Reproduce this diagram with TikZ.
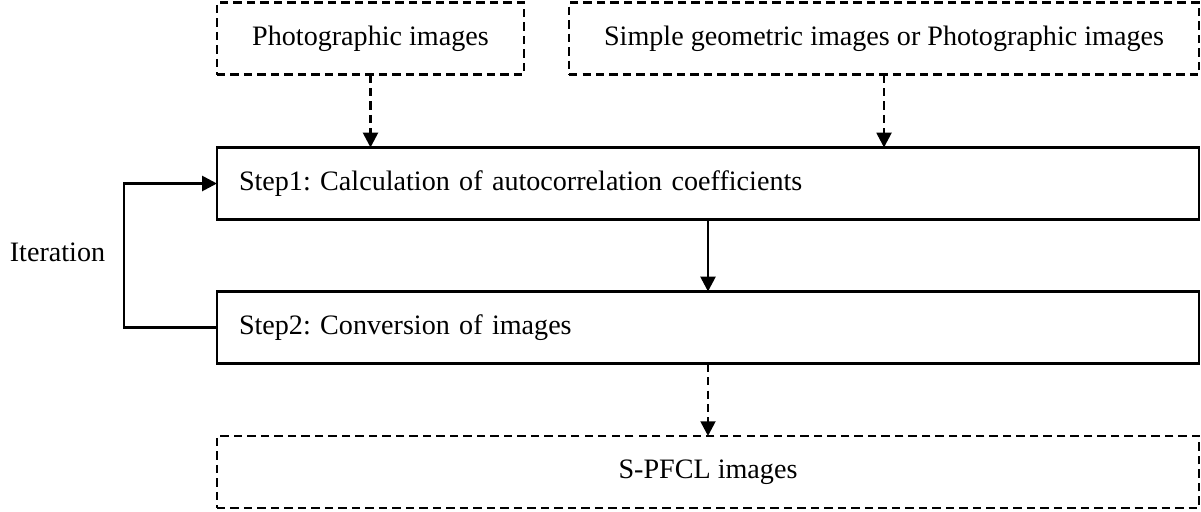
\documentclass[tikz,border=0pt]{standalone}
\usepackage{fontspec}
\setmainfont{Liberation Serif}
\usetikzlibrary{arrows.meta}

\begin{document}
\frenchspacing
\begin{tikzpicture}[
	box/.style={draw,line width=1.9pt,rectangle,inner sep=0,outer sep=0,minimum height=1.8cm},
	dashbox/.style={box,dash pattern=on 6pt off 3.6pt},
	stepbox/.style={box,text width=23.45cm,inner xsep=0.55cm,align=left},
	flow/.style={line width=1.9pt,-{Triangle[length=10.5pt,width=10.5pt]}},
	dashflow/.style={flow,dash pattern=on 6pt off 3.6pt},
	font=\fontsize{20}{24}\selectfont]
	\useasboundingbox (0,0) rectangle (30.025,-12.775);
	\node[dashbox,minimum width=7.675cm] (photo) at (9.2625,-0.9625) {Photographic images};
	\node[dashbox,minimum width=15.75cm] (geo) at (22.1,-0.9625) {Simple geometric images or Photographic images};
	\node[stepbox] (step1) at (17.7,-4.5875) {Step1: Calculation of autocorrelation coefficients};
	\node[stepbox] (step2) at (17.7,-8.1875) {Step2: Conversion of images};
	\node[dashbox,minimum width=24.55cm] (out) at (17.7,-11.8) {S-PFCL images};
	\node (iter) at (1.4375,-6.3) {Iteration};
	\draw[dashflow] (photo.south) -- (photo.south |- step1.north);
	\draw[dashflow] (geo.south) -- (geo.south |- step1.north);
	\draw[flow] (step1) -- (step2);
	\draw[dashflow] (step2) -- (out);
	\draw[flow] (step2.west) -- ++(-2.325,0) |- (step1.west);
\end{tikzpicture}
\end{document}
